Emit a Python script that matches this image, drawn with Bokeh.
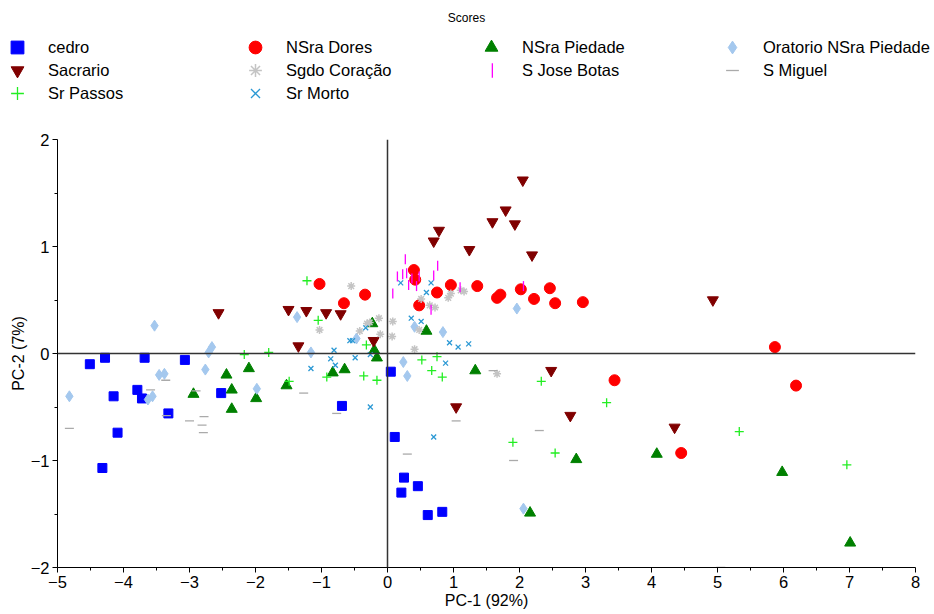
import math
from bokeh.plotting import figure
from bokeh.models import Range1d, FixedTicker, Span, Legend, LegendItem, Label
from bokeh.embed import file_html
from bokeh.resources import INLINE

# ---------------- data ----------------
cedro_x = [-4.51, -4.28, -3.68, -3.07, -4.15, -3.79, -3.72, -3.32, -4.09, -4.32, -2.52,
           -0.69, 0.05, 0.11, 0.25, 0.46, 0.21, 0.61, 0.83]
cedro_y = [-0.10, -0.04, -0.04, -0.06, -0.40, -0.34, -0.42, -0.56, -0.74, -1.07, -0.37,
           -0.49, -0.17, -0.78, -1.16, -1.24, -1.30, -1.51, -1.48]

dores_x = [-1.03, -0.34, -0.66, 0.40, 0.42, 0.75, 0.48, 0.96, 1.36, 1.66, 1.71, 2.02,
           2.22, 2.46, 2.54, 2.96, 5.87, 3.44, 6.19, 4.45]
dores_y = [0.65, 0.55, 0.47, 0.78, 0.69, 0.57, 0.45, 0.64, 0.63, 0.52, 0.55, 0.60,
           0.51, 0.61, 0.47, 0.48, 0.06, -0.25, -0.30, -0.93]

piedade_x = [-2.94, -2.44, -2.36, -2.36, -2.10, -1.99, -1.53, -0.83, -0.65, -0.23, -0.20,
             -0.16, 0.59, 1.33, 2.86, 2.16, 4.08, 5.98, 7.01]
piedade_y = [-0.38, -0.20, -0.34, -0.52, -0.14, -0.42, -0.30, -0.18, -0.15, 0.28, 0.03,
             -0.04, 0.21, -0.16, -0.99, -1.49, -0.94, -1.11, -1.77]

oratorio_x = [-4.82, -3.53, -3.46, -3.38, -3.63, -3.56, -2.76, -2.71, -2.66, -1.98, -1.37,
              -1.16, -0.47, 0.41, 0.84, 1.96, 0.24, 0.30, 2.06]
oratorio_y = [-0.40, 0.26, -0.20, -0.19, -0.43, -0.40, -0.15, 0.01, 0.06, -0.33, 0.34,
              0.01, 0.14, 0.25, 0.20, 0.42, -0.08, -0.21, -1.45]

sacrario_x = [-2.56, -1.50, -1.23, -0.93, -0.71, -1.35, -0.21, 2.05, 1.79, 1.59, 1.93,
              0.78, 0.70, 1.24, 2.19, 2.48, 1.04, 2.77, 4.93, 4.35]
sacrario_y = [0.38, 0.41, 0.40, 0.38, 0.37, 0.07, 0.12, 1.62, 1.34, 1.23, 1.21,
              1.15, 1.05, 0.97, 0.92, -0.16, -0.50, -0.58, 0.50, -0.69]

sgdo_x = [-0.55, -0.13, 0.08, -0.31, -0.27, -1.03, -0.42, -0.11, 0.07, 0.51, 0.64,
          0.72, 0.96, 0.92, 1.11, 1.16, 0.48, 0.41, 1.66]
sgdo_y = [0.63, 0.33, 0.30, 0.28, 0.29, 0.22, 0.21, 0.18, 0.16, 0.51, 0.45,
          0.43, 0.56, 0.52, 0.59, 0.58, 0.22, 0.04, -0.19]

botas_x = [0.27, 0.15, 0.23, 0.29, 0.37, 0.48, 0.76, 0.70, 0.44, 0.32, 0.08, 1.10, 0.66, 2.06]
botas_y = [0.88, 0.72, 0.74, 0.75, 0.70, 0.72, 0.82, 0.73, 0.63, 0.64, 0.56, 0.62, 0.41, 0.63]

miguel_x = [-4.82, -3.59, -3.36, -3.35, -2.90, -3.00, -2.78, -2.81, -2.79, -1.27, -0.77,
            1.60, 1.04, 2.30, 0.30, 1.91, 5.05]
miguel_y = [-0.70, -0.34, -0.25, -0.58, -0.35, -0.63, -0.59, -0.67, -0.74, -0.37, -0.56,
            -0.16, -0.63, -0.72, -0.94, -1.00, -2.00]

passos_x = [-1.22, -1.05, -2.17, -1.80, -1.49, -0.92, -0.36, -0.16, -0.32, 0.52, 0.75,
            0.67, 0.83, 2.33, 1.90, 2.54, 3.32, 5.33, 6.96]
passos_y = [0.68, 0.31, -0.01, 0.01, -0.26, -0.22, -0.21, -0.25, 0.08, -0.06, -0.03,
            -0.16, -0.22, -0.26, -0.83, -0.93, -0.46, -0.73, -1.04]

morto_x = [0.20, 0.66, 0.59, 0.36, 0.51, 0.94, 1.07, 1.23, 0.88, 0.70, -0.33, -0.57,
           -0.53, -0.81, -0.86, -0.49, -0.26, -0.79, -1.16, -0.26]
morto_y = [0.66, 0.66, 0.57, 0.33, 0.30, 0.10, 0.06, 0.09, -0.09, -0.78, 0.24, 0.12,
           0.12, 0.03, -0.05, -0.04, -0.01, -0.11, -0.14, -0.50]

x_ticks = [-5, -4, -3, -2, -1, 0, 1, 2, 3, 4, 5, 6, 7, 8]
y_ticks = [-2, -1, 0, 1, 2]

FONT = "Liberation Sans"

# series styles: label -> (x, y, marker, size, fill, line, line_width, angle)
STYLES = {
    "cedro": (cedro_x, cedro_y, "square", 9, "#0000FF", "#0000FF", 1, 0),
    "NSra Dores": (dores_x, dores_y, "circle", 11, "#FF0000", "#FF0000", 1, 0),
    "NSra Piedade": (piedade_x, piedade_y, "triangle", 11, "#008000", "#008000", 1, 0),
    "Oratorio NSra Piedade": (oratorio_x, oratorio_y, "diamond", 11, "#A4C8EE", "#A4C8EE", 1, 0),
    "Sacrario": (sacrario_x, sacrario_y, "inverted_triangle", 11, "#800000", "#800000", 1, 0),
    "Sgdo Coração": (sgdo_x, sgdo_y, "asterisk", 8, None, "#C4C4C4", 1.5, 0),
    "S Jose Botas": (botas_x, botas_y, "dash", 10, None, "#FF00FF", 1.3, math.pi / 2),
    "S Miguel": (miguel_x, miguel_y, "dash", 9, None, "#AAAAAA", 1.3, 0),
    "Sr Passos": (passos_x, passos_y, "cross", 9, None, "#22EE22", 1.3, 0),
    "Sr Morto": (morto_x, morto_y, "x", 7, None, "#2A98D4", 1.3, 0),
}
# legend grid: (column, row) of each entry
LEGEND_GRID = {
    "cedro": (0, 0), "Sacrario": (0, 1), "Sr Passos": (0, 2),
    "NSra Dores": (1, 0), "Sgdo Coração": (1, 1), "Sr Morto": (1, 2),
    "NSra Piedade": (2, 0), "S Jose Botas": (2, 1),
    "Oratorio NSra Piedade": (3, 0), "S Miguel": (3, 1),
}

# ---------------- header: title + legend (separate root) ----------------
HEAD_H = 129
COL_X = [1, 239, 475, 716]     # left edge of each legend column's key box
ROW_C = [47, 70, 93]           # vertical centre of each legend row
h = figure(width=934, height=HEAD_H, output_backend="svg", toolbar_location=None, title=None,
           x_range=Range1d(100, 101), y_range=Range1d(100, 101),
           x_axis_type=None, y_axis_type=None, min_border=0)
h.outline_line_color = None
h.xgrid.grid_line_color = None
h.ygrid.grid_line_color = None


def add_key(item, x, center, gw, gh, standoff):
    hh = max(gh, 20)
    h.add_layout(Legend(items=[item], orientation="vertical",
                        location=(x, HEAD_H - (center - hh / 2) - hh),
                        glyph_width=gw, glyph_height=gh, label_height=20, label_width=20,
                        label_standoff=standoff, spacing=0, padding=0, margin=0,
                        border_line_color=None, background_fill_alpha=0,
                        label_text_font=FONT, label_text_font_size="16.5px",
                        label_text_color="black"), "center")


for name, (col, row) in LEGEND_GRID.items():
    xs, ys, marker, size, fill, line, lw, ang = STYLES[name]
    if name == "S Jose Botas":
        # thin vertical bar key (same data, kept out of the header's view)
        r = h.vbar(x=xs, top=ys, width=0.01, fill_color=line, line_color=None)
        add_key(LegendItem(label=name, renderers=[r]), COL_X[col] + 16, ROW_C[row], 2, 18, 29)
    else:
        r = h.scatter(xs, ys, marker=marker, size=size, fill_color=fill, line_color=line,
                      line_width=lw, angle=ang)
        add_key(LegendItem(label=name, renderers=[r]), COL_X[col], ROW_C[row], 32, 32, 15)

h.add_layout(Label(x=466, y=HEAD_H - 17, x_units="screen", y_units="screen", text="Scores",
                   text_align="center", text_baseline="middle", text_font=FONT,
                   text_font_size="12px", text_color="black"))

# ---------------- main scatter plot ----------------
p = figure(frame_width=858, frame_height=428, output_backend="svg", toolbar_location=None,
           x_range=Range1d(-5, 8), y_range=Range1d(-2, 2), title=None,
           min_border_left=57, min_border_right=19, min_border_top=10, min_border_bottom=46)
p.outline_line_color = None
p.xgrid.grid_line_color = None
p.ygrid.grid_line_color = None

for ax, ticks in ((p.xaxis[0], x_ticks), (p.yaxis[0], y_ticks)):
    ax.ticker = FixedTicker(ticks=ticks, minor_ticks=[t + 0.5 for t in ticks[:-1]])
    ax.major_tick_in = 0
    ax.major_tick_out = 5
    ax.minor_tick_in = 0
    ax.minor_tick_out = 3
    ax.axis_line_color = "black"
    ax.major_tick_line_color = "black"
    ax.minor_tick_line_color = "black"
    ax.major_label_text_font = FONT
    ax.major_label_text_font_size = "16.5px"
    ax.major_label_text_color = "black"
    ax.axis_label_text_font = FONT
    ax.axis_label_text_font_size = "16px"
    ax.axis_label_text_font_style = "normal"
    ax.axis_label_text_color = "black"
    ax.major_label_standoff = 3
    ax.axis_label_standoff = 1

p.xaxis.axis_label = "PC-1 (92%)"
p.yaxis.axis_label = "PC-2 (7%)"

p.add_layout(Span(location=0, dimension="width", line_color="#333333", line_width=1.5))
p.add_layout(Span(location=0, dimension="height", line_color="#333333", line_width=1.5))

for name, (xs, ys, marker, size, fill, line, lw, ang) in STYLES.items():
    p.scatter(xs, ys, marker=marker, size=size, fill_color=fill, line_color=line,
              line_width=lw, angle=ang)

open("out.html", "w").write(file_html([h, p], INLINE))
